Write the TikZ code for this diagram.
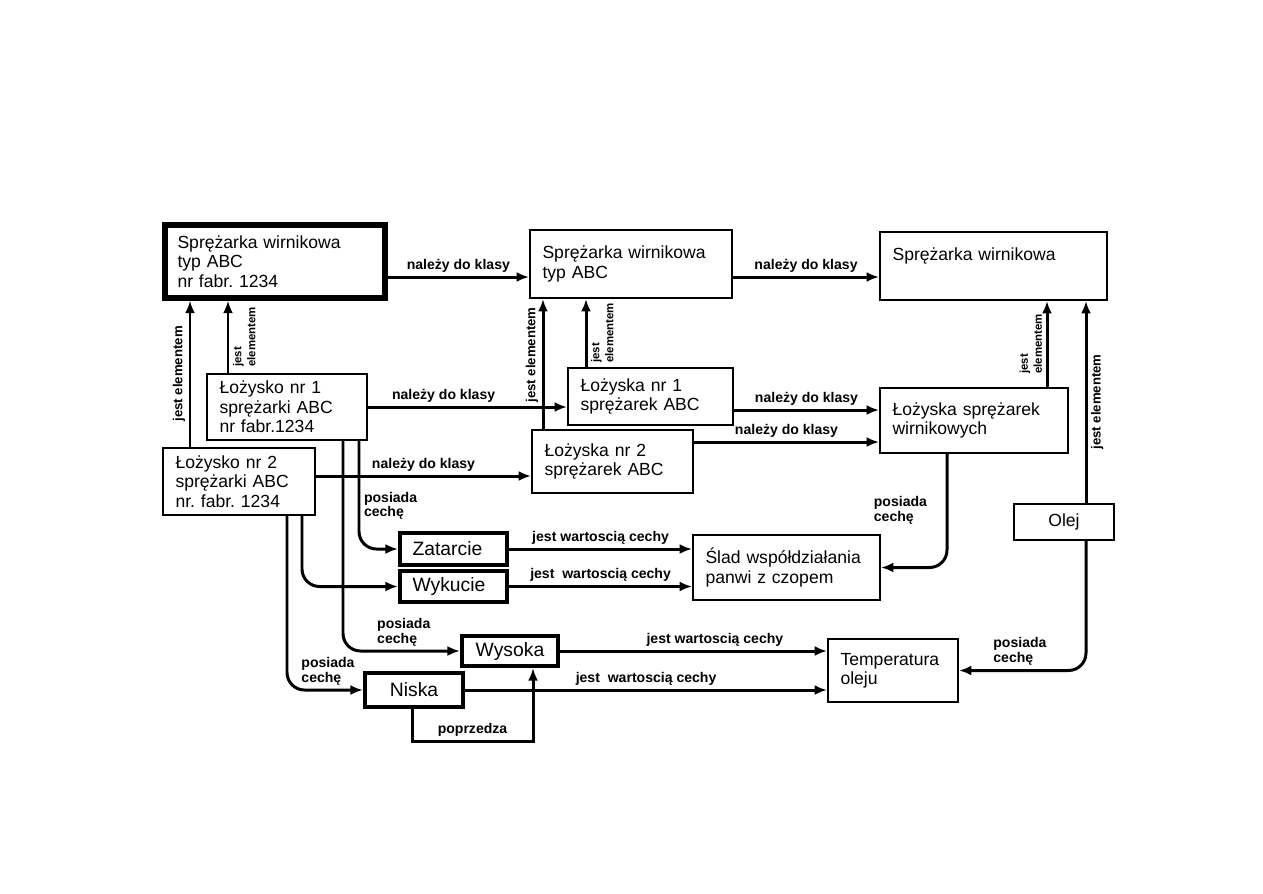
\documentclass[tikz,border=0pt]{standalone}
\usepackage{fontspec}
\setmainfont{Liberation Sans}
\usetikzlibrary{arrows.meta}
\frenchspacing
\tikzset{
  box/.style={draw, line width=1.1pt, align=left, inner xsep=0.25cm, inner ysep=0.1cm, font=\fontsize{10}{11}\selectfont},
  heavybox/.style={box, line width=2.4pt, font=\fontsize{11}{12}\selectfont},
  lbl/.style={font=\fontsize{8}{8.5}\selectfont\bfseries, inner sep=2pt},
  vlbl/.style={font=\fontsize{7.5}{8}\selectfont\bfseries, inner sep=2pt},
  vlbltwo/.style={font=\fontsize{6.5}{8}\selectfont\bfseries, inner sep=2pt, align=left},
  arr/.style={line width=1.7pt, -{Latex[length=2.5mm,width=2mm]}},
}

\begin{document}
\begin{tikzpicture}[x=0.02cm, y=-0.02cm]
\fill[white] (0,0) rectangle (1263,893);
\useasboundingbox (0,0) rectangle (1263,893);

% boxes
\node[heavybox, font=\fontsize{10}{11}\selectfont, line width=3pt, text width=3.9cm, minimum height=1.46cm] (A) at (275,261.5) {Sprężarka wirnikowa\\typ ABC\\nr fabr. 1234};
\node[box, text width=3.54cm, minimum height=1.36cm] (B) at (631,264) {Sprężarka wirnikowa\\typ ABC};
\node[box, text width=4.04cm, minimum height=1.36cm] (C) at (993.5,266) {Sprężarka wirnikowa\\[3pt]\mbox{}};
\node[box, text width=2.7cm, minimum height=1.32cm] (D) at (287,407) {Łożysko nr 1\\sprężarki ABC\\nr fabr.1234};
\node[box, text width=2.54cm, minimum height=1.34cm] (E) at (239,481.5) {Łożysko nr 2\\sprężarki ABC\\nr. fabr. 1234};
\node[box, text width=2.8cm, minimum height=1.14cm] (F) at (650.5,396.5) {Łożyska nr 1\\sprężarek ABC};
\node[box, text width=2.72cm, minimum height=1.26cm] (G) at (612.5,461.5) {Łożyska nr 2\\sprężarek ABC};
\node[box, text width=3.26cm, minimum height=1.3cm] (H) at (974,420.5) {Łożyska sprężarek\\wirnikowych};
\node[heavybox, text width=1.64cm, minimum height=0.64cm] (I) at (453.5,549) {Zatarcie};
\node[heavybox, text width=1.64cm, minimum height=0.62cm] (J) at (453.5,586.5) {Wykucie};
\node[box, text width=3.24cm, minimum height=1.3cm] (K) at (786.5,567.5) {Ślad współdziałania\\panwi z czopem};
\node[box, align=center, text width=1.5cm, minimum height=0.72cm] (L) at (1064,522) {Olej};
\node[heavybox, align=center, text width=1.42cm, minimum height=0.6cm] (M) at (510,651) {Wysoka};
\node[heavybox, align=center, text width=1.46cm, minimum height=0.68cm] (N) at (414,690) {Niska};
\node[box, text width=2.1cm, minimum height=1.26cm] (O) at (893,670.5) {Temperatura\\oleju};

% columns and rows of the connectors
\coordinate (xEA) at (190,0);
\coordinate (xDA) at (228,0);
\coordinate (xGB) at (543,0);
\coordinate (xFB) at (586,0);
\coordinate (xHC) at (1047,0);
\coordinate (xLC) at (1086,0);
\coordinate (xEN) at (287,0);
\coordinate (xEJ) at (302,0);
\coordinate (xDM) at (343,0);
\coordinate (xDI) at (359,0);
\coordinate (xHK) at (947,0);
\coordinate (xNM) at (412,0);
\coordinate (yAB) at (0,277);
\coordinate (yFH) at (0,410);
\coordinate (yGH) at (0,442);
\coordinate (yEG) at (0,476);
\coordinate (bNM) at (533,741);

% nalezy do klasy
\draw[arr] (A.east |- yAB) -- (B.west |- yAB) node[lbl, midway, above] {należy do klasy};
\draw[arr] (B.east |- yAB) -- (C.west |- yAB) node[lbl, midway, above] {należy do klasy};
\draw[arr] (D.east) -- (D.east -| F.west) node[lbl, pos=0.38, above] {należy do klasy};
\draw[arr] (E.east |- yEG) -- (G.west |- yEG) node[lbl, midway, above] {należy do klasy};
\draw[arr] (F.east |- yFH) -- (H.west |- yFH) node[lbl, midway, above] {należy do klasy};
\draw[arr] (G.east |- yGH) -- (H.west |- yGH) node[lbl, midway, above] {należy do klasy};

% jest elementem
\draw[arr] (E.north -| xEA) -- (A.south -| xEA) node[vlbl, midway, sloped, above] {jest elementem};
\draw[arr] (D.north -| xDA) -- (A.south -| xDA) node[vlbltwo, midway, sloped, below] {jest\\elementem};
\draw[arr] (G.north -| xGB) -- (B.south -| xGB) node[vlbl, pos=0.57, sloped, above] {jest elementem};
\draw[arr] (F.north -| xFB) -- (B.south -| xFB) node[vlbltwo, midway, sloped, below] {jest\\elementem};
\draw[arr] (H.north -| xHC) -- (C.south -| xHC) node[vlbltwo, midway, sloped, above] {jest\\elementem};
\draw[arr] (L.north -| xLC) -- (C.south -| xLC) node[vlbl, midway, sloped, below] {jest elementem};

% posiada cechę
\draw[arr, rounded corners=0.35cm] (D.south -| xDI) |- (I.west) node[lbl, pos=0.3, right, align=left] {posiada\\cechę};
\draw[arr, rounded corners=0.35cm] (D.south -| xDM) |- (M.west) node[lbl, pos=0.76, above, align=left] {posiada\\cechę};
\draw[arr, rounded corners=0.35cm] (E.south -| xEJ) |- (J.west);
\draw[arr, rounded corners=0.35cm] (E.south -| xEN) |- (N.west) node[lbl, pos=0.77, above, align=left] {posiada\\cechę};
\draw[arr, rounded corners=0.35cm] (H.south -| xHK) |- (K.east) node[lbl, pos=0.25, left, xshift=-0.3cm, align=left] {posiada\\cechę};
\draw[arr, rounded corners=0.35cm] (L.south -| xLC) |- (O.east) node[lbl, pos=0.76, above, align=left] {posiada\\cechę};

% jest wartoscia cechy
\draw[arr] (I.east) -- (I.east -| K.west) node[lbl, midway, above] {jest wartoscią cechy};
\draw[arr] (J.east) -- (J.east -| K.west) node[lbl, midway, above] {jest\ \ wartoscią cechy};
\draw[arr] (M.east) -- (M.east -| O.west) node[lbl, pos=0.58, above] {jest wartoscią cechy};
\draw[arr] (N.east) -- (N.east -| O.west) node[lbl, midway, above] {jest\ \ wartoscią cechy};

% poprzedza
\draw[arr] (N.south -| xNM) |- (bNM) node[lbl, pos=0.75, above] {poprzedza} -- (M.south -| bNM);
\end{tikzpicture}
\end{document}
